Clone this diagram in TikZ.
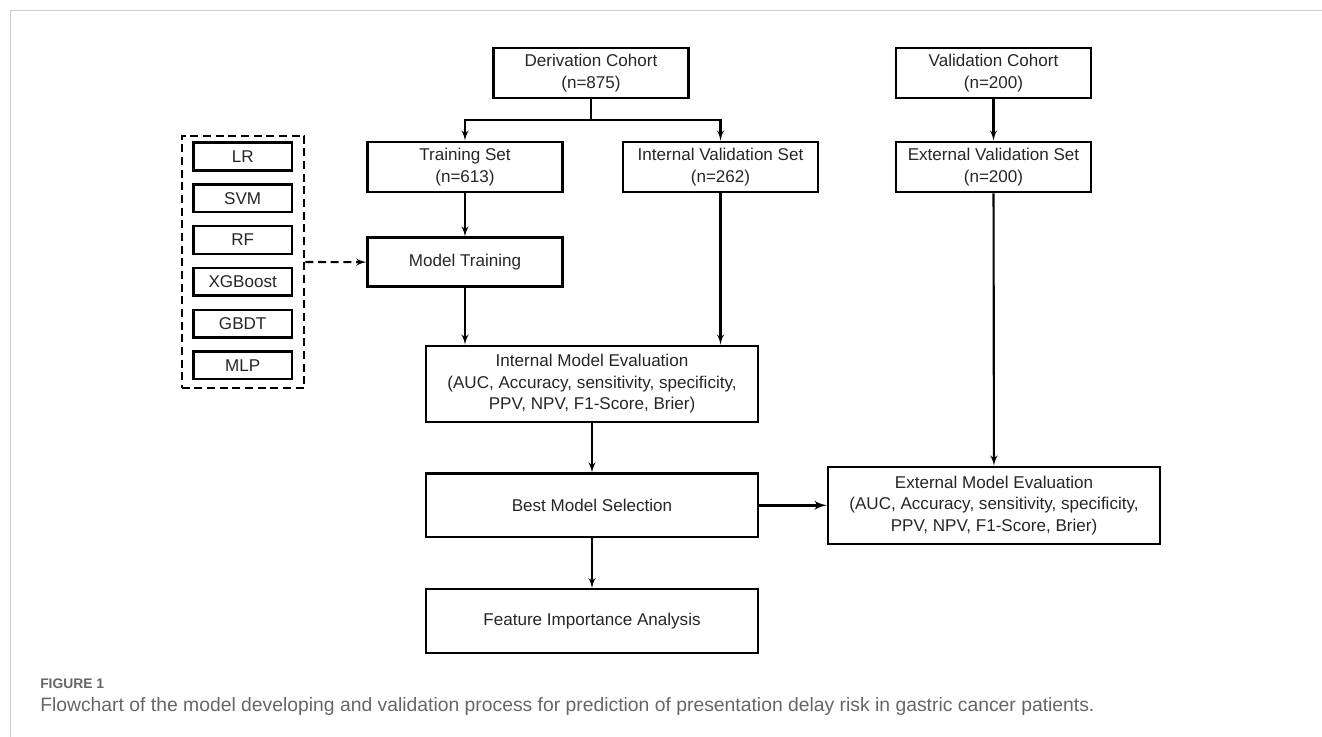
\documentclass[tikz,border=0pt]{standalone}
\usepackage{fontspec}
\setmainfont{Liberation Sans}
\usepackage{tikz}
\usetikzlibrary{arrows}
\usetikzlibrary{positioning}
\tikzset{box/.style = {draw, line width=1.8pt, align=center, inner sep=0pt,
                       text=black!85, font=\fontsize{12.8}{16.1}\selectfont}}
\tikzset{setbox/.style = {box, minimum width=146.25pt, minimum height=37.9pt}}
\tikzset{algbox/.style = {box, minimum width=74pt, minimum height=20.8pt}}
\tikzset{conn/.style = {line width=1.6pt}}
\definecolor{mgray}{rgb}{0.8, 0.8, 0.8}
\definecolor{capgray}{rgb}{0.4, 0.4, 0.4}

\begin{document}
\begin{tikzpicture}[x=0.75pt, y=-0.75pt]
    \useasboundingbox (0, 0) rectangle (1322, 737);
    \draw [mgray, line width=0.75pt] (10, 737) -- (10, 11) -- (1322, 11);

    \node [setbox] (deriv) at (591, 73) {Derivation Cohort\\(n=875)};
    \node [setbox] (valcoh) at (993.5, 73) {Validation Cohort\\(n=200)};
    \node [setbox] (train) at (465, 167) {Training Set\\(n=613)};
    \node [setbox] (intval) at (720.5, 167) {Internal Validation Set\\(n=262)};
    \node [setbox] (extval) at (993.5, 167) {External Validation Set\\(n=200)};
    \node [setbox, minimum height=36.75pt] (modeltrain) at (465, 262.2) {Model Training};

    \node [box, minimum width=249pt, minimum height=57.4pt] (inteval) at (592, 384)
      {Internal Model Evaluation\\(AUC, Accuracy, sensitivity, specificity,\\PPV, NPV, F1-Score, Brier)};
    \node [box, minimum width=249pt, minimum height=47.4pt] (best) at (592, 505.3) {Best Model Selection};
    \node [box, minimum width=249pt, minimum height=47.6pt] (feat) at (592, 621) {Feature Importance Analysis};
    \node [box, minimum width=249pt, minimum height=57.75pt] (exteval) at (994, 505.3)
      {External Model Evaluation\\(AUC, Accuracy, sensitivity, specificity,\\PPV, NPV, F1-Score, Brier)};

    \node [draw, line width=1.6pt, dash pattern=on 6pt off 3.5pt,
           minimum width=92pt, minimum height=189.5pt] (algos) at (243, 262) {};
    \node [algbox] (lr) at (242.7, 156.5) {LR};
    \node [algbox] (svm) at (242.7, 198.2) {SVM};
    \node [algbox] (rf) at (242.7, 240) {RF};
    \node [algbox] (xgb) at (242.7, 281.8) {XGBoost};
    \node [algbox] (gbdt) at (242.7, 323.6) {GBDT};
    \node [algbox] (mlp) at (242.7, 365.3) {MLP};

    \coordinate (split) at (591, 120);
    \draw [conn] (deriv) -- (split);
    \draw [conn, -latex'] (split) -| (train);
    \draw [conn, -latex'] (split) -| (intval);
    \draw [conn, -latex'] (valcoh) -- (extval);
    \draw [conn, -latex'] (train) -- (modeltrain);
    \draw [conn, -latex'] (modeltrain) -- (modeltrain.south |- inteval.north);
    \draw [conn, -latex'] (intval) -- (intval.south |- inteval.north);
    \draw [conn, -latex'] (extval) -- (exteval);
    \draw [conn, -latex'] (inteval) -- (best);
    \draw [conn, -latex'] (best) -- (feat);
    \draw [conn, line width=2.2pt, -latex'] (best) -- (exteval);
    \draw [conn, dash pattern=on 6pt off 3.5pt, -latex'] (algos) -- (modeltrain);

    \node [anchor=west, inner sep=0pt, text=capgray,
           font=\bfseries\fontsize{10.4}{12}\selectfont] (fig) at (40, 684) {FIGURE 1};
    \node [anchor=west, inner sep=0pt, text=capgray,
           font=\fontsize{14.5}{16}\selectfont] (caption) at (40, 707)
      {Flowchart of the model developing and validation process for prediction of presentation delay risk in gastric cancer patients.};
  \end{tikzpicture}
\end{document}
